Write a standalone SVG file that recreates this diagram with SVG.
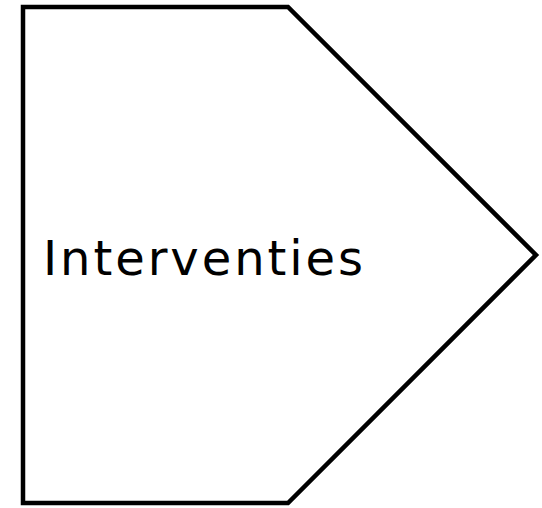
<svg xmlns="http://www.w3.org/2000/svg" width="542" height="508" viewBox="0 0 542 508">
<style>
.shape{fill:#fff;stroke:#000;stroke-width:4.5;stroke-linejoin:miter}
.label{font-family:"DejaVu Sans",Verdana,sans-serif;font-size:48px;fill:#000}
</style>
<rect width="542" height="508" fill="#fff"/>
<g id="interventies">
<polygon class="shape" points="23,7 288,7 536,255 288,503 23,503"/>
<text class="label" x="43" y="275" textLength="320" lengthAdjust="spacing">Interventies</text>
</g>
<g id="connectors"/>
</svg>
